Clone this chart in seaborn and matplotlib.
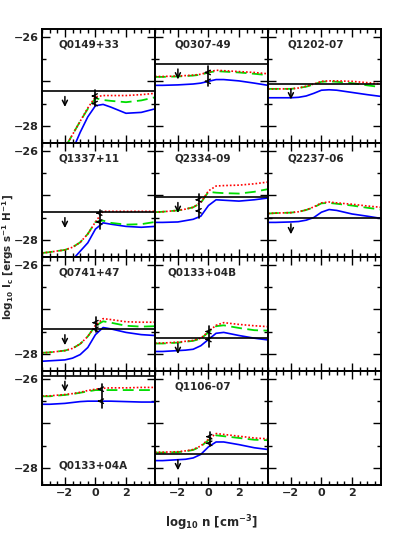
import numpy as np
import pandas as pd
import matplotlib
matplotlib.use("Agg")
import matplotlib.pyplot as plt
from matplotlib.ticker import MultipleLocator, FixedLocator, FixedFormatter
import seaborn as sns

# ---------------- data ----------------
x_grid = [-3.5, -3, -2, -1.5, -1, -0.5, 0, 0.5, 1, 2, 3, 3.9]

names = ["Q0149+33", "Q0307-49", "Q1202-07",
         "Q1337+11", "Q2334-09", "Q2237-06",
         "Q0741+47", "Q0133+04B", None,
         "Q0133+04A", "Q1106-07", None]

red = {
    "Q0149+33": [-29.4, -29.1, -28.5, -28.2, -27.9, -27.6, -27.35, -27.32, -27.32, -27.32, -27.3, -27.27],
    "Q0307-49": [-26.89, -26.89, -26.88, -26.87, -26.86, -26.84, -26.79, -26.75, -26.76, -26.78, -26.80, -26.83],
    "Q1202-07": [-27.17, -27.17, -27.17, -27.15, -27.11, -27.06, -27.0, -26.99, -26.99, -27.0, -27.03, -27.06],
    "Q1337+11": [-28.30, -28.28, -28.23, -28.17, -28.06, -27.87, -27.6, -27.36, -27.36, -27.36, -27.36, -27.36],
    "Q2334-09": [-27.38, -27.37, -27.34, -27.31, -27.27, -27.16, -26.9, -26.79, -26.78, -26.77, -26.74, -26.70],
    "Q2237-06": [-27.41, -27.40, -27.39, -27.37, -27.33, -27.26, -27.17, -27.15, -27.17, -27.2, -27.24, -27.27],
    "Q0741+47": [-27.98, -27.97, -27.93, -27.88, -27.78, -27.61, -27.36, -27.21, -27.23, -27.28, -27.29, -27.29],
    "Q0133+04B": [-27.76, -27.76, -27.74, -27.72, -27.70, -27.65, -27.5, -27.36, -27.3, -27.34, -27.37, -27.39],
    "Q0133+04A": [-26.38, -26.38, -26.35, -26.33, -26.3, -26.26, -26.23, -26.21, -26.2, -26.2, -26.19, -26.19],
    "Q1106-07": [-27.65, -27.65, -27.64, -27.62, -27.59, -27.51, -27.36, -27.23, -27.25, -27.29, -27.33, -27.35],
}
green = {
    "Q0149+33": [-29.4, -29.1, -28.5, -28.2, -27.9, -27.62, -27.38, -27.42, -27.44, -27.47, -27.43, -27.36],
    "Q0307-49": [-26.90, -26.90, -26.89, -26.88, -26.87, -26.85, -26.80, -26.77, -26.78, -26.80, -26.83, -26.86],
    "Q1202-07": [-27.17, -27.17, -27.17, -27.15, -27.12, -27.07, -27.01, -27.0, -27.01, -27.04, -27.09, -27.13],
    "Q1337+11": [-28.30, -28.28, -28.23, -28.17, -28.06, -27.87, -27.6, -27.57, -27.62, -27.66, -27.65, -27.6],
    "Q2334-09": [-27.38, -27.37, -27.34, -27.31, -27.27, -27.17, -26.92, -26.94, -26.95, -26.96, -26.92, -26.86],
    "Q2237-06": [-27.41, -27.40, -27.39, -27.37, -27.33, -27.27, -27.18, -27.17, -27.19, -27.23, -27.28, -27.32],
    "Q0741+47": [-27.98, -27.97, -27.93, -27.88, -27.78, -27.61, -27.37, -27.27, -27.3, -27.37, -27.39, -27.38],
    "Q0133+04B": [-27.77, -27.77, -27.75, -27.73, -27.71, -27.66, -27.52, -27.38, -27.36, -27.42, -27.47, -27.48],
    "Q0133+04A": [-26.39, -26.39, -26.36, -26.34, -26.31, -26.28, -26.25, -26.25, -26.25, -26.25, -26.25, -26.25],
    "Q1106-07": [-27.66, -27.66, -27.65, -27.63, -27.6, -27.52, -27.38, -27.27, -27.29, -27.33, -27.37, -27.38],
}
blue = {
    "Q0149+33": [-29.8, -29.5, -28.9, -28.55, -28.15, -27.8, -27.55, -27.52, -27.58, -27.72, -27.70, -27.62],
    "Q0307-49": [-27.09, -27.09, -27.08, -27.07, -27.06, -27.04, -27.0, -26.96, -26.96, -26.99, -27.04, -27.09],
    "Q1202-07": [-27.37, -27.37, -27.37, -27.36, -27.33, -27.27, -27.2, -27.19, -27.2, -27.25, -27.3, -27.34],
    "Q1337+11": [-29.3, -29.1, -28.8, -28.45, -28.26, -28.07, -27.76, -27.62, -27.65, -27.7, -27.72, -27.7],
    "Q2334-09": [-27.61, -27.61, -27.6, -27.57, -27.54, -27.47, -27.23, -27.1, -27.11, -27.13, -27.1, -27.06],
    "Q2237-06": [-27.61, -27.61, -27.6, -27.59, -27.56, -27.5, -27.38, -27.32, -27.34, -27.42, -27.47, -27.52],
    "Q0741+47": [-28.17, -28.16, -28.14, -28.1, -28.02, -27.86, -27.57, -27.41, -27.44, -27.52, -27.57, -27.59],
    "Q0133+04B": [-27.95, -27.95, -27.93, -27.92, -27.9, -27.82, -27.68, -27.54, -27.52, -27.59, -27.65, -27.69],
    "Q0133+04A": [-26.57, -26.57, -26.55, -26.53, -26.51, -26.5, -26.5, -26.5, -26.5, -26.51, -26.52, -26.52],
    "Q1106-07": [-27.84, -27.84, -27.82, -27.81, -27.78, -27.7, -27.53, -27.42, -27.42, -27.48, -27.55, -27.59],
}
# observed upper limit (horizontal line, arrow at log n = -2)
limit = {"Q0149+33": -27.22, "Q0307-49": -26.60, "Q1202-07": -27.05, "Q1337+11": -27.38,
         "Q2334-09": -27.04, "Q2237-06": -27.52, "Q0741+47": -27.45, "Q0133+04B": -27.65,
         "Q0133+04A": -25.93, "Q1106-07": -27.70}
limit_arrow_x = -2.0
# vertical bar: x, low, high, left-arrow levels
bar = {"Q0149+33": (0.0, -27.55, -27.20, [-27.33, -27.50]),
       "Q0307-49": (0.0, -27.11, -26.65, [-26.80, -27.00]),
       "Q1337+11": (0.3, -27.76, -27.34, [-27.40, -27.60]),
       "Q2334-09": (-0.6, -27.50, -26.97, [-27.10, -27.35]),
       "Q0741+47": (0.05, -27.52, -27.17, [-27.30, -27.45]),
       "Q0133+04B": (0.05, -27.86, -27.38, [-27.50, -27.68]),
       "Q0133+04A": (0.4, -26.65, -26.11, [-26.23, -26.50]),
       "Q1106-07": (0.1, -27.50, -27.20, [-27.30, -27.45])}

# ---------------- style ----------------
sns.set_style("ticks")
plt.rcParams["font.family"] = ["DejaVu Sans"]
plt.rcParams["font.weight"] = "bold"
plt.rcParams["mathtext.default"] = "bf"

fig, axes = plt.subplots(4, 3, figsize=(4.02, 5.40), dpi=100, sharex=True, sharey=True)
fig.subplots_adjust(left=42/402, right=381/402, top=1-29/540, bottom=1-485/540,
                    hspace=0, wspace=0)

for i, ax in enumerate(axes.flat):
    name = names[i]
    ax.set_xlim(-3.5, 3.9)
    ax.set_ylim(-28.39, -25.82)
    for s in ax.spines.values():
        s.set_linewidth(1.4)
        s.set_color("black")
    ax.xaxis.set_major_locator(FixedLocator([-2, 0, 2]))
    ax.xaxis.set_minor_locator(MultipleLocator(0.5))
    ax.yaxis.set_major_locator(FixedLocator([-28, -27, -26]))
    ax.yaxis.set_major_formatter(FixedFormatter(["\u221228", "", "\u221226"]))
    ax.yaxis.set_minor_locator(MultipleLocator(0.5))
    ax.tick_params(which="both", direction="in", top=True, right=True,
                   color="black", width=1.0, labelsize=8, pad=2.5)
    ax.tick_params(which="major", length=6)
    ax.tick_params(which="minor", length=3)
    if name is None:
        continue
    df = pd.DataFrame({
        "x": x_grid * 3,
        "y": red[name] + green[name] + blue[name],
        "model": ["red"] * 12 + ["green"] * 12 + ["blue"] * 12,
    })
    sns.lineplot(data=df[df.model == "blue"], x="x", y="y", ax=ax, color="#0000ff",
                 lw=1.2, legend=False)
    sns.lineplot(data=df[df.model == "green"], x="x", y="y", ax=ax, color="#00dd00",
                 lw=1.3, legend=False, linestyle=(0, (6, 3)))
    sns.lineplot(data=df[df.model == "red"], x="x", y="y", ax=ax, color="#ff0000",
                 lw=1.2, legend=False, linestyle=(0, (1, 1.2)))
    ax.axhline(limit[name], color="black", lw=1.2)
    yl = limit[name]
    ax.annotate("", xy=(limit_arrow_x, yl - 0.42), xytext=(limit_arrow_x, yl - 0.06),
                arrowprops=dict(arrowstyle="->", color="black", lw=1.1, mutation_scale=9))
    if name in bar:
        bx, lo, hi, levels = bar[name]
        ax.plot([bx, bx], [lo, hi], color="black", lw=1.2)
        for lv in levels:
            ax.annotate("", xy=(bx - 0.45, lv), xytext=(bx, lv),
                        arrowprops=dict(arrowstyle="->", color="black", lw=1.0,
                                        mutation_scale=8))
    if name == "Q0133+04A":
        ax.text(0.45, 0.17, name, transform=ax.transAxes, ha="center", va="center",
                fontsize=7.5, fontweight="bold")
    else:
        ax.text(0.42, 0.86, name, transform=ax.transAxes, ha="center", va="center",
                fontsize=7.5, fontweight="bold")

for ax in axes.flat:
    ax.set_xlabel("")
    ax.set_ylabel("")
    ax.xaxis.set_major_formatter(FixedFormatter(["\u22122", "0", "2"]))
    for lab in ax.get_xticklabels() + ax.get_yticklabels():
        lab.set_fontweight("bold")

fig.text(211.5/402, 1 - 523/540, "log$_{10}$ n [cm$^{-3}$]",
         ha="center", va="center", fontsize=8.5, fontweight="bold")
fig.text(8/402, 1 - 257/540, "log$_{10}$ I$_{c}$ [ergs s$^{-1}$ H$^{-1}$]",
         ha="center", va="center", rotation=90, fontsize=7.5, fontweight="bold")

fig.savefig("out.png", dpi=100, facecolor="white")
